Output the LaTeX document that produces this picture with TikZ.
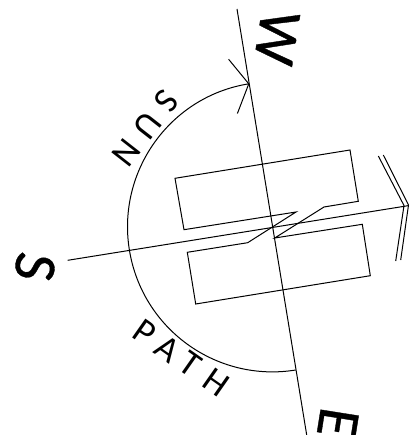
\documentclass[tikz,border=0pt]{standalone}
\usepackage{fontspec}
\setsansfont{Carlito}
\usetikzlibrary{arrows.meta}
\tikzset{
  line/.style={draw=black, line width=1pt},
  compass/.style={font=\sffamily\fontsize{60}{60}\selectfont\addfontfeature{FakeBold=0.6}, inner sep=0pt, rotate=-99},
  arctext/.style={font=\sffamily\fontsize{36}{36}\selectfont\addfontfeature{LetterSpace=31}, inner sep=0pt},
  sunarrow/.style={-{Straight Barb[length=16pt,width=55pt,line width=1pt]}, line width=1pt}
}
\begin{document}
\begin{tikzpicture}[x=1pt,y=-1pt]
\useasboundingbox (0,0) rectangle (409,435);
\clip (0,0) rectangle (409,435);
\coordinate (wend) at (237,9);
\coordinate (eend) at (306.7,435);
\coordinate (send) at (67.7,260.3);
\coordinate (mirror) at (408,205.7);
\coordinate (arcstart) at (295.7,370);
\node[compass] (w) at (277,38) {W};
\node[compass] (e) at (338,423) {E};
\node[compass] (s) at (35,267) {S};
\node[arctext, rotate=-128] (sun) at (145,128) {SUN};
\node[arctext, rotate=-35] (path) at (181,358) {PATH};
\draw[line] (wend)--(eend);
\draw[line] (send)--(mirror);
\draw[sunarrow] (arcstart) arc[start angle=279.2, end angle=99.2, radius=145pt];
% collector outline
\draw[line] (358.3,201.3)--(324,207)--(274.7,238)--(362.3,224.3)--(370.3,275.7)--(195.7,304)--(187.3,252.3)--(247.7,242.7)--(296,212)--(184,229.7)--(175,178.3)--(350,150)--cycle;
% mirror
\draw[line] (378.3,156)--(404,205.5)--(395.7,261);
\draw[line] (383.3,155)--(408.5,205)--(400.7,260);
\end{tikzpicture}
\end{document}
